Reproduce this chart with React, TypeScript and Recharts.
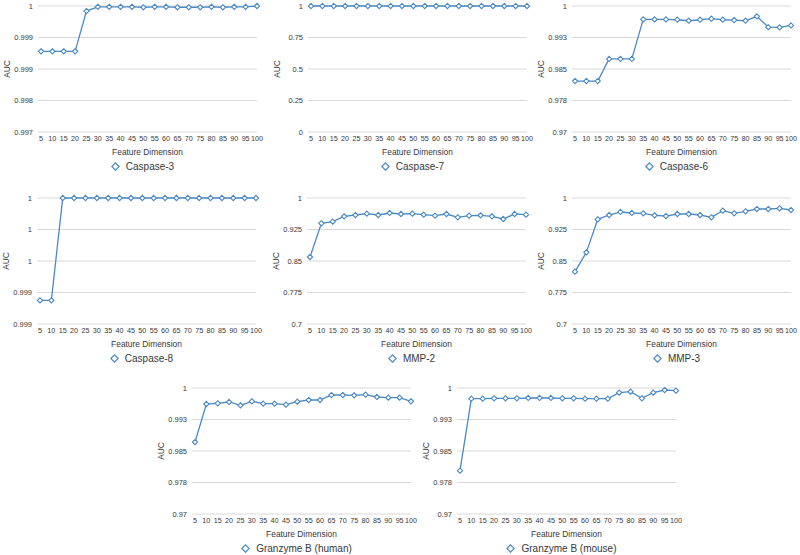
import { CartesianGrid, Legend, Line, LineChart, XAxis, YAxis } from "recharts";

const dims = [5, 10, 15, 20, 25, 30, 35, 40, 45, 50, 55, 60, 65, 70, 75, 80, 85, 90, 95, 100];

const caspase3 = [
  0.99892, 0.99892, 0.99892, 0.99892, 0.99988, 0.99998, 0.99998, 0.99998, 0.99998, 0.99997,
  0.99998, 0.99998, 0.99997, 0.99997, 0.99997, 0.99998, 0.99997, 0.99998, 0.99998, 1.0,
];
const caspase7 = [
  0.9999, 0.9999, 0.9999, 0.9999, 0.9999, 0.9999, 0.9999, 0.9999, 0.9999, 0.9999,
  0.9999, 0.9999, 0.9999, 0.9999, 0.9999, 0.9999, 0.9999, 0.9999, 0.9999, 0.9999,
];
const caspase6 = [
  0.98213, 0.98213, 0.98213, 0.98739, 0.98739, 0.98739, 0.99681, 0.99681, 0.99681, 0.99673,
  0.99649, 0.99673, 0.99697, 0.99673, 0.99665, 0.99649, 0.99753, 0.99497, 0.99489, 0.99537,
];
const caspase8 = [
  0.99935, 0.99935, 1.0, 1.0, 1.0, 1.0, 1.0, 1.0, 1.0, 1.0,
  1.0, 1.0, 1.0, 1.0, 1.0, 1.0, 1.0, 1.0, 1.0, 1.0,
];
const mmp2 = [
  0.8595, 0.9397, 0.9437, 0.9563, 0.9595, 0.9627, 0.9595, 0.9643, 0.9619, 0.9627,
  0.9603, 0.9579, 0.9619, 0.954, 0.9579, 0.9587, 0.9563, 0.95, 0.9619, 0.9603,
];
const mmp3 = [
  0.8246, 0.8706, 0.9492, 0.9595, 0.9667, 0.9643, 0.9635, 0.9587, 0.9571, 0.9619,
  0.9619, 0.9595, 0.954, 0.9698, 0.9635, 0.9683, 0.9738, 0.9738, 0.9754, 0.9714,
];
const granzymeHuman = [
  0.98714, 0.99619, 0.99635, 0.99667, 0.99587, 0.99683, 0.99627, 0.99627, 0.99603, 0.99675,
  0.99714, 0.99714, 0.99833, 0.99833, 0.99825, 0.99841, 0.99786, 0.9977, 0.9977, 0.99682,
];
const granzymeMouse = [
  0.98031, 0.99746, 0.99746, 0.99754, 0.99754, 0.99754, 0.99762, 0.99762, 0.99762, 0.99754,
  0.99754, 0.99746, 0.99746, 0.99746, 0.99889, 0.99913, 0.99754, 0.99889, 0.99952, 0.99936,
];

const ticksCaspase3 = [0.997, 0.99775, 0.9985, 0.99925, 1];
const ticksCaspase7 = [0, 0.25, 0.5, 0.75, 1];
const ticksFine = [0.97, 0.9775, 0.985, 0.9925, 1];
const ticksCaspase8 = [0.9992, 0.9994, 0.9996, 0.9998, 1];
const ticksMmp = [0.7, 0.775, 0.85, 0.925, 1];

const BLUE = "#4a89c4";
const TEXT = "#383838";
const FONT = "'Liberation Sans', Arial, Helvetica, sans-serif";

const panels = [
  { name: "Caspase-3", values: caspase3, ticks: ticksCaspase3, gridLeft: 38, plotTop: 6 },
  { name: "Caspase-7", values: caspase7, ticks: ticksCaspase7, gridLeft: 308, plotTop: 6 },
  { name: "Caspase-6", values: caspase6, ticks: ticksFine, gridLeft: 572, plotTop: 6 },
  { name: "Caspase-8", values: caspase8, ticks: ticksCaspase8, gridLeft: 37, plotTop: 198 },
  { name: "MMP-2", values: mmp2, ticks: ticksMmp, gridLeft: 307, plotTop: 198 },
  { name: "MMP-3", values: mmp3, ticks: ticksMmp, gridLeft: 572, plotTop: 198 },
  { name: "Granzyme B (human)", values: granzymeHuman, ticks: ticksFine, gridLeft: 192, plotTop: 388 },
  { name: "Granzyme B (mouse)", values: granzymeMouse, ticks: ticksFine, gridLeft: 457, plotTop: 388 },
];

const AXIS_W = 36;
const PLOT_W = 219;

const fmt = (v: number) => String(Number((v + 1e-9).toFixed(3)));

const Diamond = (props: any) => {
  const { cx, cy, index } = props;
  if (cx == null || cy == null) return null;
  const r = 2.6;
  return (
    <path
      key={index}
      d={`M${cx},${cy - r}L${cx + r},${cy}L${cx},${cy + r}L${cx - r},${cy}Z`}
      fill="#fff"
      stroke={BLUE}
      strokeWidth={1.1}
    />
  );
};

const LegendBox = ({ name }: { name: string }) => (
  <div
    style={{
      height: 16,
      display: "flex",
      alignItems: "center",
      justifyContent: "center",
      paddingRight: 10,
      fontSize: 10,
      fontFamily: FONT,
      color: TEXT,
    }}
  >
    <svg width={9} height={9} style={{ display: "block" }}>
      <path d="M4.5,0.8L8.2,4.5L4.5,8.2L0.8,4.5Z" fill="#fff" stroke={BLUE} strokeWidth={1.2} />
    </svg>
    <span style={{ marginLeft: 6 }}>{name}</span>
  </div>
);

const Panel = ({ p }: { p: (typeof panels)[number] }) => {
  const data = dims.map((d, i) => ({ dim: d, auc: p.values[i] }));
  return (
    <div style={{ position: "absolute", left: p.gridLeft - AXIS_W, top: p.plotTop - 6 }}>
      <LineChart
        width={AXIS_W + PLOT_W + 6}
        height={176}
        data={data}
        margin={{ top: 6, right: 6, left: 0, bottom: 2 }}
      >
        <CartesianGrid vertical={false} stroke="#d9d9d9" />
        <XAxis
          dataKey="dim"
          interval={0}
          height={26}
          padding={{ left: 3, right: 0 }}
          axisLine={false}
          tickLine={false}
          tickSize={2}
          tickMargin={2}
          tick={{ fontSize: 7.2, fill: TEXT, fontFamily: FONT }}
          label={{
            value: "Feature Dimension",
            position: "insideBottom",
            offset: 3,
            style: { fontSize: 8.4, fill: TEXT, fontFamily: FONT },
          }}
        />
        <YAxis
          width={AXIS_W}
          domain={[p.ticks[0], p.ticks[p.ticks.length - 1]]}
          ticks={p.ticks}
          tickFormatter={fmt}
          axisLine={false}
          tickLine={false}
          tickSize={3}
          tickMargin={2}
          tick={{ fontSize: 7.5, fill: TEXT, fontFamily: FONT }}
          label={{
            value: "AUC",
            angle: -90,
            position: "insideLeft",
            offset: 5,
            style: { fontSize: 8.4, fill: TEXT, fontFamily: FONT, textAnchor: "middle" },
          }}
        />
        <Legend
          verticalAlign="bottom"
          wrapperStyle={{ left: AXIS_W, width: PLOT_W }}
          content={() => <LegendBox name={p.name} />}
        />
        <Line
          type="linear"
          dataKey="auc"
          name={p.name}
          stroke={BLUE}
          strokeWidth={1.3}
          dot={Diamond}
          activeDot={false}
          isAnimationActive={false}
        />
      </LineChart>
    </div>
  );
};

export default function App() {
  return (
    <div
      style={{
        position: "absolute",
        left: 0,
        top: 0,
        width: 800,
        height: 555,
        overflow: "hidden",
        background: "#fff",
      }}
    >
      {panels.map((p) => (
        <Panel key={p.name} p={p} />
      ))}
    </div>
  );
}
